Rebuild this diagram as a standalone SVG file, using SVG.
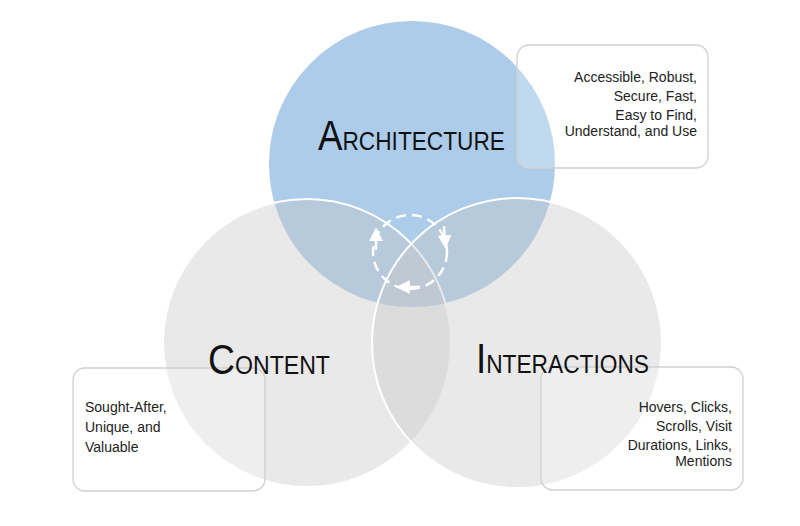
<svg xmlns="http://www.w3.org/2000/svg" width="800" height="526" viewBox="0 0 800 526">
<style>
.gc{fill:#c8c8c8;fill-opacity:0.4;stroke:#fff;stroke-width:2}
.box{fill:#fff;fill-opacity:0.25;stroke:#d0d0d0;stroke-width:1.3}
.t{font-family:"Liberation Sans","Open Sans",sans-serif;font-size:14px;fill:#222}
.big{font-family:"Liberation Sans","Open Sans",sans-serif;fill:#111;font-size:26px}
.cap{font-size:42px}
</style>
<defs><marker id="ah" viewBox="0 0 10 10" refX="5" refY="5" markerWidth="5.5" markerHeight="5.5" orient="auto"><path d="M0,0 L10,5 L0,10 z" fill="#fff"/></marker></defs>
<rect width="800" height="526" fill="#fff"/>
<g id="architecture"><circle cx="412" cy="164" r="144" fill="#9dc3e6" fill-opacity="0.85" stroke="#fff" stroke-width="2"/></g>
<g id="content"><circle class="gc" cx="307" cy="343" r="144"/></g>
<g id="interactions"><circle class="gc" cx="517" cy="343" r="145"/></g>
<g id="connectors">
<circle cx="410" cy="252" r="37" fill="none" stroke="#fff" stroke-width="2.5" stroke-dasharray="10 6"/>
<path d="M376,250 L376,234" stroke="#fff" stroke-width="2.5" marker-end="url(#ah)"/>
<path d="M444,226 L445,242" stroke="#fff" stroke-width="2.5" marker-end="url(#ah)"/>
<path d="M420,287 L403,287" stroke="#fff" stroke-width="2.5" marker-end="url(#ah)"/>
</g>
<g id="arch-box"><rect class="box" x="517" y="45" width="191" height="123" rx="12"/>
<text class="t" text-anchor="end"><tspan x="697" y="82">Accessible, Robust,</tspan><tspan x="697" y="101">Secure, Fast,</tspan><tspan x="697" y="120">Easy to Find,</tspan><tspan x="697" y="136">Understand, and Use</tspan></text></g>
<g id="content-box"><rect class="box" x="73" y="368" width="192" height="123" rx="12"/>
<text class="t"><tspan x="85" y="412">Sought-After,</tspan><tspan x="85" y="432">Unique, and</tspan><tspan x="85" y="452">Valuable</tspan></text></g>
<g id="interactions-box"><rect class="box" x="541" y="367" width="202" height="123" rx="12"/>
<text class="t" text-anchor="end"><tspan x="732" y="412">Hovers, Clicks,</tspan><tspan x="732" y="431">Scrolls, Visit</tspan><tspan x="732" y="450">Durations, Links,</tspan><tspan x="732" y="466">Mentions</tspan></text></g>
<text class="big" x="318" y="150" textLength="187" lengthAdjust="spacingAndGlyphs"><tspan class="cap">A</tspan>RCHITECTURE</text>
<text class="big" x="208" y="374" textLength="122" lengthAdjust="spacingAndGlyphs"><tspan class="cap">C</tspan>ONTENT</text>
<text class="big" x="476" y="373" textLength="173" lengthAdjust="spacingAndGlyphs"><tspan class="cap">I</tspan>NTERACTIONS</text>
</svg>
